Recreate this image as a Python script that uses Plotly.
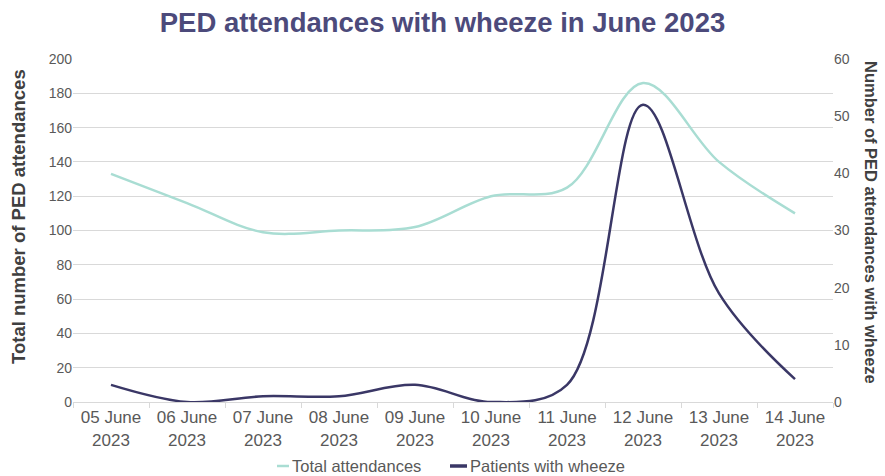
import plotly.graph_objects as go

dates = ["05 June<br>2023", "06 June<br>2023", "07 June<br>2023", "08 June<br>2023", "09 June<br>2023",
         "10 June<br>2023", "11 June<br>2023", "12 June<br>2023", "13 June<br>2023", "14 June<br>2023"]
total_attendances = [133, 116, 99, 100, 102, 120, 125, 186, 140, 110]
patients_wheeze = [3, 0, 1, 1, 3, 0, 3, 52, 19, 4]

series_names = ["Total attendances", "Patients with wheeze"]
teal = "#a9ddd3"
navy = "#3a3766"
font = "Liberation Sans, Arial, sans-serif"

# plot area in pixels
W, H = 885, 476
L, R, T, B = 73, 52, 59, 74
PW, PH = W - L - R, H - T - B


def px_x(px):
    return (px - L) / PW


def px_y(py):
    return (H - B - py) / PH


fig = go.Figure()
fig.add_trace(go.Scatter(x=dates, y=total_attendances, name=series_names[0], mode="lines",
                         line=dict(color=teal, width=2.5, shape="spline", smoothing=1.0),
                         showlegend=False))
fig.add_trace(go.Scatter(x=dates, y=patients_wheeze, name=series_names[1], mode="lines",
                         yaxis="y2", showlegend=False,
                         line=dict(color=navy, width=2.5, shape="spline", smoothing=1.0)))

fig.update_layout(
    width=W, height=H,
    margin=dict(l=L, r=R, t=T, b=B, autoexpand=False),
    paper_bgcolor="white", plot_bgcolor="white",
    font=dict(family=font, size=14, color="#595959"),
    title=dict(text="<b>PED attendances with wheeze in June 2023</b>", x=0.5, xanchor="center",
               y=1 - 22 / H, yanchor="middle", font=dict(size=27.5, color="#4c4a7b", family=font)),
    xaxis=dict(type="category", showgrid=False, showline=True, linecolor="#d9d9d9", linewidth=1,
               ticks="outside", tickson="boundaries", ticklen=5, tickcolor="#d9d9d9",
               tickfont=dict(size=17, color="#595959"), range=[-0.5, 9.5], automargin=False),
    yaxis=dict(range=[0, 200], dtick=20, showgrid=True, gridcolor="#d9d9d9", gridwidth=1,
               zeroline=False, tickfont=dict(size=14, color="#595959"), automargin=False),
    yaxis2=dict(range=[0, 60], dtick=10, overlaying="y", side="right", showgrid=False,
                zeroline=False, tickfont=dict(size=14, color="#595959"), automargin=False),
    showlegend=False,
)

# axis titles
fig.add_annotation(text="<b>Total number of PED attendances</b>", textangle=-90,
                   xref="paper", yref="paper", x=px_x(18), y=px_y(217),
                   xanchor="center", yanchor="middle", showarrow=False,
                   font=dict(size=18.5, color="#404040", family=font))
fig.add_annotation(text="<b>Number of PED attendances with wheeze</b>", textangle=90,
                   xref="paper", yref="paper", x=px_x(871), y=px_y(222),
                   xanchor="center", yanchor="middle", showarrow=False,
                   font=dict(size=16.5, color="#404040", family=font))

# legend (bottom, centred)
leg_y = px_y(466)
for (x0, x1, tx, col, lw), name in zip([(277, 289, 290, teal, 2.5), (450, 467, 468, navy, 3.5)], series_names):
    fig.add_shape(type="line", xref="paper", yref="paper", x0=px_x(x0), x1=px_x(x1), y0=leg_y, y1=leg_y,
                  line=dict(color=col, width=lw))
    fig.add_annotation(text=name, xref="paper", yref="paper", x=px_x(tx), y=leg_y,
                       xanchor="left", yanchor="middle", showarrow=False,
                       font=dict(size=16.5, color="#595959", family=font))

fig.write_html("out.html")
